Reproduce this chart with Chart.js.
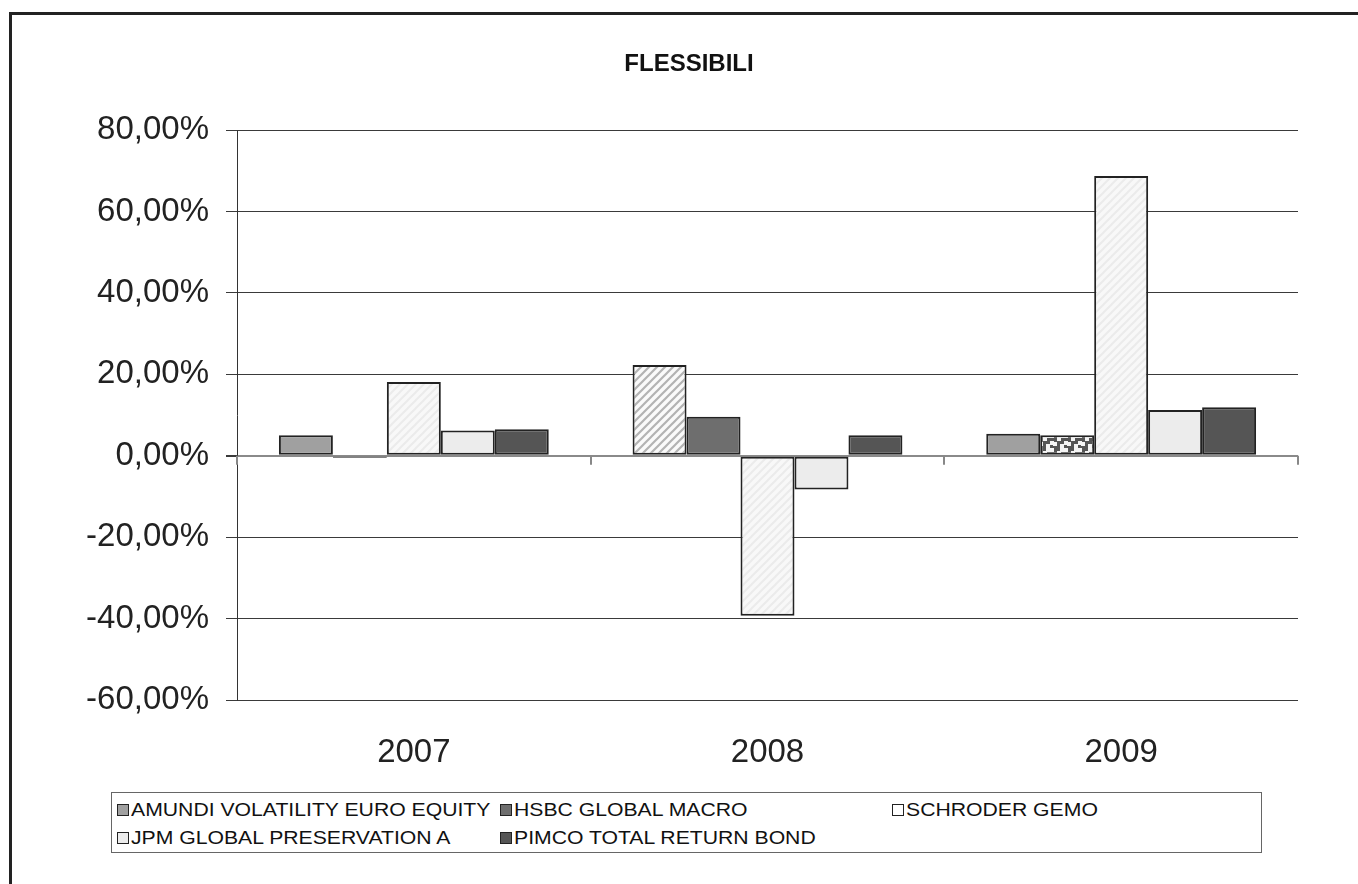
<!DOCTYPE html>
<html>
<head>
<meta charset="utf-8">
<script src="https://cdn.jsdelivr.net/npm/chart.js@4.4.1/dist/chart.umd.min.js"></script>
<style>
  html, body { margin: 0; padding: 0; background: #ffffff; }
  #wrap { position: relative; width: 1358px; height: 884px; overflow: hidden; }
  #frame { position: absolute; left: 9px; top: 12px; width: 1400px; height: 900px;
           border-top: 3px solid #222; border-left: 3px solid #222; z-index: 0; }
  canvas { position: absolute; left: 0; top: 0; z-index: 1; }
  #title { position: absolute; left: 0; width: 1378px; top: 48px; text-align: center; z-index: 2;
           font-family: "Liberation Sans", Arial, sans-serif; font-weight: bold; font-size: 24px;
           line-height: 30px; color: #111; }
  #legend { position: absolute; left: 111px; top: 792px; width: 1151px; height: 61px;
            box-sizing: border-box; border: 1px solid #666; z-index: 2; background: #fff;
            font-family: "Liberation Sans", Arial, sans-serif; font-size: 19px; color: #111; }
  .item { position: absolute; display: flex; align-items: center; white-space: nowrap; height: 28px; }
  .sw { width: 10px; height: 10px; border: 1px solid #222; margin-right: 2px; flex: none; }
  .tx { display: inline-block; transform: scaleX(1.115); transform-origin: left center; }
</style>
</head>
<body>
<div id="wrap">
  <div id="frame"></div>
  <canvas id="c" width="1358" height="884"></canvas>
  <div id="title"></div>
  <div id="legend"></div>
</div>
<script>
// ---- data ----
const categories = ['2007', '2008', '2009'];
const seriesNames = ['AMUNDI VOLATILITY EURO EQUITY', 'HSBC GLOBAL MACRO', 'SCHRODER GEMO', 'JPM GLOBAL PRESERVATION A', 'PIMCO TOTAL RETURN BOND'];
const amundi   = [5.0, 22.3, 5.4];
const hsbc     = [-0.5, 9.6, 5.0];
const schroder = [18.1, -39.3, 68.7];
const jpm      = [6.2, -8.3, 11.2];
const pimco    = [6.5, 5.0, 11.9];
const yMin = -60, yMax = 80, yStep = 20;
const chartTitle = 'FLESSIBILI';

// ---- patterns ----
function makePattern(size, draw) {
  const c = document.createElement('canvas');
  c.width = size; c.height = size;
  const g = c.getContext('2d');
  draw(g, size);
  return g.createPattern(c, 'repeat');
}
function diag(g, s, color, w) {
  g.strokeStyle = color; g.lineWidth = w;
  g.beginPath();
  g.moveTo(-1, s + 1); g.lineTo(s + 1, -1);
  g.moveTo(-1, 1); g.lineTo(1, -1);
  g.moveTo(s - 1, s + 1); g.lineTo(s + 1, s - 1);
  g.stroke();
}
const lightHatch = makePattern(8, (g, s) => { g.fillStyle = '#f8f8f8'; g.fillRect(0, 0, s, s); diag(g, s, '#ebebeb', 2); });
const grayHatch = makePattern(8, (g, s) => { g.fillStyle = '#fafafa'; g.fillRect(0, 0, s, s); diag(g, s, '#b3b3b3', 2.2); });
const checker = makePattern(14, (g, s) => {
  g.fillStyle = '#555555'; g.fillRect(0, 0, s, s);
  g.fillStyle = '#f4f4f4';
  [[0,0],[7,3],[3,8],[10,10],[10,0],[0,7]].forEach(p => g.fillRect(p[0], p[1], 4, 4));
});

const solid = ['#a0a0a0', '#6e6e6e', '#ffffff', '#ececec', '#555555'];
const seriesValues = [amundi, hsbc, schroder, jpm, pimco];
const fills = [
  ['#a0a0a0', grayHatch, '#a0a0a0'],
  ['#6e6e6e', '#6e6e6e', checker],
  [lightHatch, lightHatch, lightHatch],
  ['#ececec', '#ececec', '#ececec'],
  ['#555555', '#555555', '#555555']
];

const datasets = seriesValues.map((vals, i) => ({
  label: seriesNames[i],
  data: vals,
  backgroundColor: fills[i],
  borderColor: '#222222',
  borderWidth: 2,
  borderSkipped: false,
  categoryPercentage: 0.763,
  barPercentage: 1.0
}));

// ---- category boundary ticks on the zero line ----
const zeroTicks = {
  id: 'zeroTicks',
  afterDatasetsDraw(chart) {
    const xs = chart.scales.x, ys = chart.scales.y;
    const y0 = ys.getPixelForValue(0);
    const n = categories.length;
    const w = (xs.right - xs.left) / n;
    const ctx = chart.ctx;
    ctx.save();
    ctx.strokeStyle = '#888888';
    ctx.lineWidth = 2;
    ctx.beginPath();
    for (let i = 0; i <= n; i++) {
      const x = Math.round(xs.left + i * w);
      ctx.moveTo(x, y0); ctx.lineTo(x, y0 + 9);
    }
    ctx.stroke();
    ctx.restore();
  }
};

const fontFam = '"Liberation Sans", Arial, sans-serif';
new Chart(document.getElementById('c'), {
  type: 'bar',
  data: { labels: categories, datasets },
  plugins: [zeroTicks],
  options: {
    responsive: false,
    animation: false,
    devicePixelRatio: 1,
    layout: { padding: { left: 0, right: 60, top: 130, bottom: 0 } },
    plugins: {
      legend: { display: false },
      tooltip: { enabled: false },
      title: { display: false }
    },
    scales: {
      x: {
        grid: { display: false },
        border: { display: false },
        ticks: { color: '#222', font: { family: fontFam, size: 33 }, padding: 25 },
        afterFit(s) { s.height = 184; }
      },
      y: {
        min: yMin, max: yMax,
        afterFit(s) { s.width = 237; },
        border: { display: true, color: '#333', width: 1 },
        grid: {
          color: c => (c.tick && c.tick.value === 0) ? '#8a8a8a' : '#3a3a3a',
          lineWidth: c => (c.tick && c.tick.value === 0) ? 2 : 1,
          tickLength: 11,
          tickColor: '#3a3a3a'
        },
        ticks: {
          stepSize: yStep,
          color: '#222',
          padding: 17,
          font: { family: fontFam, size: 33 },
          callback: v => (Math.round(v * 100) / 100).toFixed(2).replace('.', ',') + '%'
        }
      }
    }
  }
});

document.getElementById('title').textContent = chartTitle;

// ---- legend (HTML) ----
const legendEl = document.getElementById('legend');
const legendPos = [[5, 3], [388, 3], [780, 3], [5, 31], [388, 31]];
seriesNames.forEach((name, i) => {
  const it = document.createElement('div');
  it.className = 'item';
  it.style.left = legendPos[i][0] + 'px';
  it.style.top = legendPos[i][1] + 'px';
  const sw = document.createElement('span');
  sw.className = 'sw';
  sw.style.background = solid[i];
  const tx = document.createElement('span');
  tx.className = 'tx';
  tx.textContent = name;
  it.appendChild(sw); it.appendChild(tx);
  legendEl.appendChild(it);
});
</script>
</body>
</html>
